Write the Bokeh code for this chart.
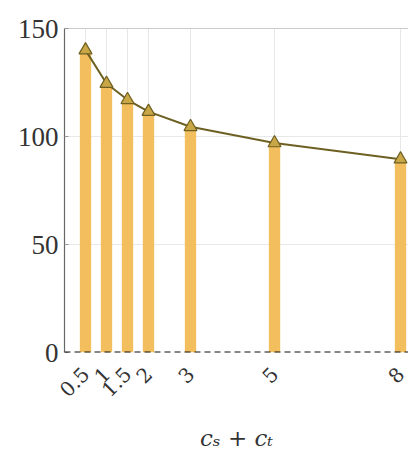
import math
from bokeh.plotting import figure
from bokeh.models import FixedTicker, Span, ColumnDataSource, Range1d
from bokeh.embed import file_html
from bokeh.resources import INLINE

x_vals = [0.5, 1, 1.5, 2, 3, 5, 8]
y_vals = [140, 124.5, 117, 111.5, 104.5, 97, 89.5]
x_tick_labels = ["0.5", "1", "1.5", "2", "3", "5", "8"]
y_ticks = [0, 50, 100, 150]

FONT = "Liberation Serif"
XFONT = "DejaVu Serif"

p = figure(width=408, height=454, output_backend="svg", toolbar_location=None,
           x_range=Range1d(0, 8.19), y_range=Range1d(0, 150),
           min_border_left=64, min_border_right=0, min_border_top=28,
           min_border_bottom=102)
p.outline_line_color = None

src = ColumnDataSource(dict(x=x_vals, y=y_vals))
p.vbar(x="x", top="y", width=0.27, bottom=0, source=src,
       fill_color="#F2BB55", fill_alpha=0.95, line_color=None)
p.line(x="x", y="y", source=src, line_color="#6E6022", line_width=2)
p.scatter(x="x", y="y", source=src, marker="triangle", size=13,
          fill_color="#C9A646", line_color="#6E6022", line_width=1.2)

p.add_layout(Span(location=0, dimension="width", line_color="#111111",
                  line_dash="6 4", line_width=2))
p.add_layout(Span(location=150, dimension="width", line_color="#999999",
                  line_width=1.2))

p.xaxis.ticker = FixedTicker(ticks=x_vals)
p.xaxis.major_label_overrides = {v: l for v, l in zip(x_vals, x_tick_labels)}
p.xaxis.major_label_orientation = math.pi / 4
p.xaxis.axis_line_color = None
p.xaxis.major_tick_line_color = None
p.xaxis.minor_tick_line_color = None
p.xaxis.major_label_text_font = XFONT
p.xaxis.major_label_text_font_size = "20px"
p.xaxis.major_label_text_color = "#333333"
p.xaxis.major_label_standoff = 12
p.xaxis.axis_label = "cₛ + cₜ"
p.xaxis.axis_label_text_font = XFONT
p.xaxis.axis_label_text_font_style = "italic"
p.xaxis.axis_label_text_font_size = "23px"
p.xaxis.axis_label_text_color = "#333333"
p.xaxis.axis_label_standoff = 18

p.yaxis.ticker = FixedTicker(ticks=y_ticks)
p.yaxis.axis_line_color = "#666666"
p.yaxis.axis_line_width = 1.2
p.yaxis.major_tick_in = 4
p.yaxis.major_tick_out = 0
p.yaxis.major_tick_line_color = "#999999"
p.yaxis.minor_tick_line_color = None
p.yaxis.major_label_text_font = FONT
p.yaxis.major_label_text_font_size = "27px"
p.yaxis.major_label_text_color = "#333333"
p.yaxis.major_label_standoff = 6

p.xgrid.ticker = FixedTicker(ticks=x_vals)
p.xgrid.grid_line_color = "#e8e8e8"
p.ygrid.grid_line_color = "#e8e8e8"

open("out.html", "w").write(file_html(p, INLINE))
